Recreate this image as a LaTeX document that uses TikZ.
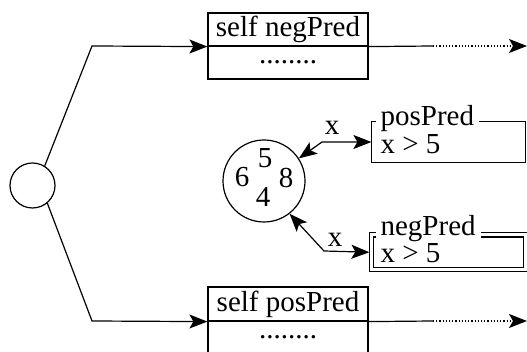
\documentclass[tikz,border=0pt]{standalone}
\usepackage{fontspec}
\setmainfont{Liberation Serif}
\usetikzlibrary{arrows.meta}
\begin{document}
\begin{tikzpicture}[x=1pt,y=1pt,line width=1.2pt,
  every node/.style={font=\fontsize{29}{29}\selectfont, inner sep=0pt},
  tip/.style={-{Stealth[length=18pt,width=14pt,inset=4pt]}},
  tips/.style={{Stealth[length=18pt,width=14pt,inset=4pt]}-{Stealth[length=18pt,width=14pt,inset=4pt]}},
  cell/.style={draw, rectangle, minimum width=160pt, minimum height=33pt},
  frame/.style={rectangle, minimum width=153pt},
  lbl/.style={anchor=base west},
  dig/.style={anchor=base}]
\useasboundingbox (0,0) rectangle (527,352);
\clip (0,0) rectangle (527,352);
% root
\node[draw, circle, minimum size=45pt] (root) at (32.5,166.5) {};
% top box
\node[cell] (topA) at (288,322.5) {};
\node[cell] (topB) at (288,289.5) {};
\node[anchor=base] (topT) at (288,315) {self negPred};
\node[anchor=base] (topD) at (288,288) {........};
% bottom box
\node[cell, minimum height=34pt] (botA) at (288,48) {};
\node[cell, minimum height=34pt] (botB) at (288,14) {};
\node[anchor=base] (botT) at (288,40) {self posPred};
\node[anchor=base] (botD) at (288,13) {........};
% connectors from root
\coordinate (k1) at (92,306);
\coordinate (k2) at (92,31);
\draw[tip] (root.58) -- (k1) -- (topA.south west);
\draw[tip] (root.-50) -- (k2) -- (botA.south west);
% outgoing arrows
\coordinate (t1) at (433,306);
\coordinate (t2) at (527,306);
\coordinate (b1) at (433,31);
\coordinate (b2) at (527,31);
\draw (topA.south east) -- (t1);
\draw[tip, dotted] (t1) -- (t2);
\draw (botA.south east) -- (b1);
\draw[tip, dotted] (b1) -- (b2);
% object circle
\node[draw, circle, minimum size=82pt] (obj) at (264,171) {};
\node[dig] (d5) at (265,184) {5};
\node[dig] (d6) at (242,165) {6};
\node[dig] (d8) at (286,164) {8};
\node[dig] (d4) at (263,145) {4};
% posPred frame
\node[frame, minimum height=40pt] (pos) at (448.5,210) {};
\draw ([xshift=5pt]pos.north west) -- (pos.north west) -- (pos.south west) -- (pos.south east) -- (pos.north east) -- ([xshift=-47pt]pos.north east);
\node[lbl] (posT) at (380,226) {posPred};
\node[lbl] (posX) at (380,198) {x > 5};
% negPred frame
\node[frame, minimum height=33.5pt] (neg) at (448.5,99.75) {};
\draw[double, double distance=3pt] ([xshift=5pt]neg.north west) -- (neg.north west) -- (neg.south west) -- (neg.south east) -- (neg.north east) -- ([xshift=-45pt]neg.north east);
\node[lbl] (negT) at (380,116) {negPred};
\node[lbl] (negX) at (380,89) {x > 5};
% links
\coordinate (p1) at (322,210);
\coordinate (n1) at (324,101);
\draw[tips] (obj.33.7) -- (p1) -- (pos.west);
\draw[tips] (obj.-52) -- (n1) -- ([xshift=-2pt]neg.west);
\node[anchor=base] (xp) at (332,217) {x};
\node[anchor=base] (xn) at (335,105) {x};
\end{tikzpicture}
\end{document}
